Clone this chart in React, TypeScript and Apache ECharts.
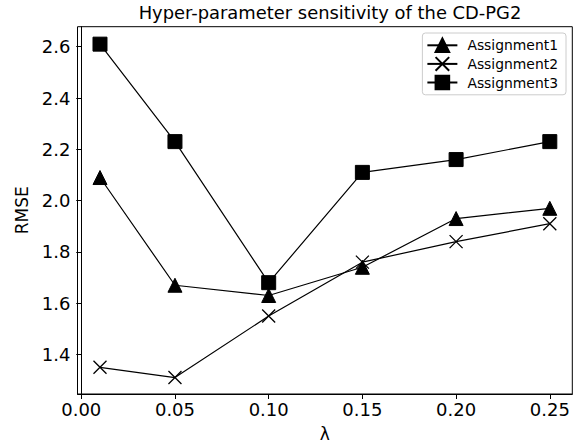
import React, { useEffect, useRef } from "react";
import * as echarts from "echarts";

const lambdas = [0.01, 0.05, 0.1, 0.15, 0.2, 0.25];
const assignment1 = [2.09, 1.67, 1.63, 1.74, 1.93, 1.97];
const assignment2 = [1.35, 1.31, 1.55, 1.76, 1.84, 1.91];
const assignment3 = [2.61, 2.23, 1.68, 2.11, 2.16, 2.23];
const xTicks = [0, 0.05, 0.1, 0.15, 0.2, 0.25];
const yTicks = [1.4, 1.6, 1.8, 2.0, 2.2, 2.4, 2.6];

const FONT = "DejaVu Sans";

export default function App() {
  const ref = useRef<HTMLDivElement>(null);
  useEffect(() => {
    if (!ref.current) return;
    const chart = echarts.init(ref.current, null, { renderer: "svg" });
    const pair = (ys: number[]) => lambdas.map((x, i) => [x, ys[i]]);
    const line = { color: "#000", width: 1.2 };
    chart.setOption({
      animation: false,
      backgroundColor: "#fff",
      title: {
        text: "Hyper-parameter sensitivity of the CD-PG2",
        left: 325,
        textAlign: "center",
        top: 0,
        padding: [3, 5, 5, 5],
        textStyle: { fontFamily: FONT, fontSize: 17.9, fontWeight: "normal", color: "#000" },
      },
      legend: {
        orient: "vertical",
        right: 14,
        top: 33,
        itemWidth: 30,
        itemHeight: 17,
        itemGap: 3,
        padding: [4.5, 8, 4.5, 4],
        borderColor: "#ccc",
        borderWidth: 1,
        borderRadius: 3,
        backgroundColor: "rgba(255,255,255,0.8)",
        textStyle: { fontFamily: FONT, fontSize: 13.9, color: "#000", padding: [0, 0, 0, 5] },
        data: ["Assignment1", "Assignment2", "Assignment3"],
      },
      grid: {
        left: 77.5,
        top: 26.7,
        right: 7.7,
        bottom: 51.3,
        show: true,
        borderColor: "#000",
        borderWidth: 1,
        backgroundColor: "transparent",
      },
      xAxis: {
        type: "value",
        min: -0.002,
        max: 0.262,
        name: "λ",
        nameLocation: "middle",
        nameGap: 31,
        nameTextStyle: { fontFamily: FONT, fontSize: 17, color: "#000" },
        axisLine: { show: true, lineStyle: { color: "#000", width: 1 } },
        axisTick: { show: true, length: 5, customValues: xTicks, lineStyle: { color: "#000" } },
        axisLabel: {
          customValues: xTicks,
          formatter: (v: number) => v.toFixed(2),
          fontFamily: FONT,
          fontSize: 18,
          color: "#000",
          margin: 6,
        },
        splitLine: { show: false },
      },
      yAxis: {
        type: "value",
        min: 1.246,
        max: 2.678,
        name: "RMSE",
        nameLocation: "middle",
        nameGap: 46,
        nameTextStyle: { fontFamily: FONT, fontSize: 17, color: "#000" },
        axisLine: { show: true, lineStyle: { color: "#000", width: 1 } },
        axisTick: { show: true, length: 5, customValues: yTicks, lineStyle: { color: "#000" } },
        axisLabel: {
          customValues: yTicks,
          formatter: (v: number) => v.toFixed(1),
          fontFamily: FONT,
          fontSize: 18,
          color: "#000",
          margin: 7,
        },
        splitLine: { show: false },
      },
      series: [
        {
          name: "Assignment1",
          type: "line",
          data: pair(assignment1),
          symbol: "triangle",
          symbolSize: 14,
          showAllSymbol: true,
          lineStyle: line,
          itemStyle: { color: "#000", borderColor: "#000", borderWidth: 1 },
          z: 3,
        },
        {
          name: "Assignment2",
          type: "line",
          data: pair(assignment2),
          symbol: "path://M0,0L10,10M10,0L0,10",
          symbolSize: 13,
          showAllSymbol: true,
          lineStyle: line,
          itemStyle: { color: "rgba(0,0,0,0)", borderColor: "#000", borderWidth: 1.3 },
          z: 4,
        },
        {
          name: "Assignment3",
          type: "line",
          data: pair(assignment3),
          symbol: "rect",
          symbolSize: 14,
          showAllSymbol: true,
          lineStyle: line,
          itemStyle: { color: "#000", borderColor: "#000", borderWidth: 1 },
          z: 2,
        },
      ],
    });
    return () => chart.dispose();
  }, []);
  return <div ref={ref} style={{ width: 580, height: 447, position: "absolute", left: 0, top: 0 }} />;
}
